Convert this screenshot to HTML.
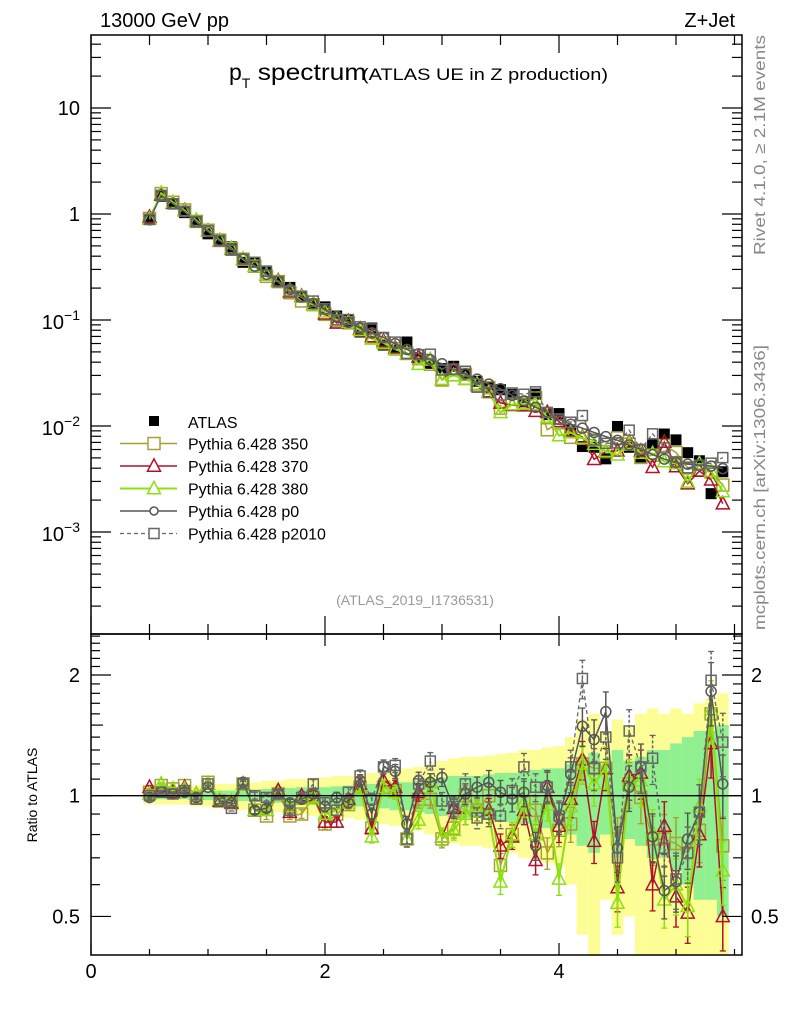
<!DOCTYPE html>
<html><head><meta charset="utf-8">
<style>
html,body{margin:0;padding:0;background:#fff;}
svg{display:block;font-family:"Liberation Sans",sans-serif;}
</style></head>
<body>
<svg id="chart" width="786" height="1024" viewBox="0 0 786 1024" xmlns="http://www.w3.org/2000/svg">
  <text x="100" y="27" font-size="20">13000 GeV pp</text>
  <text x="735" y="27" font-size="20" text-anchor="end">Z+Jet</text>
  <text x="229" y="80" font-size="23">p<tspan font-size="14" dy="8">T</tspan><tspan dy="-8" textLength="116" lengthAdjust="spacingAndGlyphs"> spectrum</tspan></text>
  <text x="362" y="80" font-size="17" textLength="246" lengthAdjust="spacingAndGlyphs">(ATLAS UE in Z production)</text>
  <text x="415" y="605" font-size="14" fill="#999" text-anchor="middle">(ATLAS_2019_I1736531)</text>
  <text transform="translate(765,255) rotate(-90)" font-size="16" fill="#888" textLength="220" lengthAdjust="spacingAndGlyphs">Rivet 4.1.0, ≥ 2.1M events</text>
  <text transform="translate(765,630) rotate(-90)" font-size="16" fill="#888" textLength="285" lengthAdjust="spacingAndGlyphs">mcplots.cern.ch [arXiv:1306.3436]</text>
  <text transform="translate(37,795) rotate(-90)" font-size="14" text-anchor="middle">Ratio to ATLAS</text>
  <g id="bands"></g>
  <g id="marks"></g>
  <g id="axes"></g>
  <g id="legend"></g>
</svg>
<script>
const xVals = [0.5,0.6,0.7,0.8,0.9,1.0,1.1,1.2,1.3,1.4,1.5,1.6,1.7,1.8,1.9,2.0,2.1,2.2,2.3,2.4,2.5,2.6,2.7,2.8,2.9,3.0,3.1,3.2,3.3,3.4,3.5,3.6,3.7,3.8,3.9,4.0,4.1,4.2,4.3,4.4,4.5,4.6,4.7,4.8,4.9,5.0,5.1,5.2,5.3,5.4];
const atlasVals = [0.89,1.47,1.24,1.03,0.86,0.65,0.58,0.49,0.35,0.35,0.29,0.228,0.203,0.168,0.141,0.133,0.109,0.099,0.077,0.084,0.058,0.052,0.062,0.044,0.039,0.0348,0.0366,0.0307,0.0264,0.023,0.022,0.0199,0.0169,0.02,0.0128,0.0131,0.0092,0.0064,0.0063,0.0049,0.0099,0.0063,0.0051,0.0068,0.0084,0.0074,0.0056,0.0047,0.0023,0.0037];
const ratio350 = [1.02,1.06,1.04,1.06,0.99,1.08,0.97,0.96,1.07,0.92,0.89,1.01,0.89,0.90,0.99,0.85,0.90,0.95,1.05,0.83,1.05,1.03,0.78,0.98,0.98,0.78,0.83,1.00,0.92,1.00,0.67,0.80,0.96,0.92,0.72,0.82,0.85,1.20,1.17,1.17,0.78,1.07,0.99,0.78,0.78,0.76,0.72,0.82,1.60,0.75];
const ratio370 = [1.05,1.03,1.02,1.05,1.01,1.07,0.97,0.96,1.07,0.92,0.92,1.03,0.91,1.00,1.00,0.86,0.86,0.98,1.07,0.83,1.09,1.05,0.78,1.02,1.08,0.79,0.93,0.90,0.94,0.92,0.75,0.79,0.92,0.69,1.05,0.84,0.98,1.23,0.77,1.17,0.59,1.12,1.14,0.60,0.84,0.56,0.51,0.80,1.35,0.50];
const ratio380 = [1.01,1.07,1.04,1.04,1.01,1.07,0.98,0.97,1.07,0.92,0.92,1.01,0.94,0.98,0.99,0.90,0.92,0.96,1.04,0.79,1.05,1.02,0.78,0.87,1.08,0.79,0.82,0.90,0.94,0.90,0.61,0.80,0.96,0.80,0.95,0.62,0.94,1.20,1.07,1.18,0.54,1.09,1.09,0.81,0.55,0.60,0.53,0.94,1.64,0.65];
const ratioP0 = [0.99,1.02,1.01,1.02,0.99,1.05,0.97,0.96,1.08,0.92,0.93,1.01,0.96,0.98,1.01,0.94,0.99,0.96,1.09,0.90,1.18,1.15,0.85,1.09,1.08,1.11,0.93,1.01,1.05,1.08,1.02,0.98,1.02,0.75,1.06,0.88,1.13,1.49,1.38,1.62,0.74,1.05,1.18,0.79,0.58,0.61,0.78,0.91,1.82,1.07];
const ratioP2010 = [1.00,1.02,1.01,1.03,0.98,1.07,0.97,0.93,1.07,1.00,0.99,1.01,0.92,0.99,1.07,0.96,0.92,1.02,1.12,0.98,1.18,1.19,0.78,1.07,1.22,0.97,0.94,1.07,0.88,0.90,0.89,1.03,1.18,1.05,1.05,0.89,1.18,1.96,1.17,1.40,0.70,1.45,1.18,1.24,0.74,0.62,0.72,0.91,1.94,1.36];
const statErr = [0.02,0.02,0.02,0.02,0.025,0.025,0.03,0.03,0.03,0.035,0.04,0.04,0.045,0.05,0.05,0.05,0.055,0.06,0.06,0.07,0.07,0.08,0.08,0.09,0.10,0.11,0.12,0.12,0.12,0.13,0.14,0.14,0.15,0.16,0.17,0.17,0.20,0.25,0.28,0.20,0.30,0.22,0.25,0.30,0.30,0.35,0.40,0.45,0.45,0.50];
const totErr = [0.05,0.05,0.05,0.05,0.06,0.06,0.07,0.07,0.08,0.08,0.09,0.09,0.10,0.10,0.11,0.11,0.12,0.12,0.13,0.14,0.15,0.16,0.17,0.18,0.20,0.22,0.24,0.25,0.25,0.26,0.27,0.28,0.30,0.30,0.32,0.33,0.40,0.55,0.60,0.45,0.55,0.50,0.60,0.65,0.60,0.65,0.60,0.70,0.75,0.80];
const mcErr = [0.01,0.01,0.01,0.01,0.01,0.01,0.015,0.015,0.015,0.02,0.02,0.02,0.02,0.025,0.025,0.03,0.03,0.03,0.035,0.035,0.04,0.04,0.045,0.05,0.05,0.05,0.055,0.06,0.06,0.07,0.07,0.07,0.08,0.08,0.09,0.09,0.10,0.11,0.12,0.12,0.13,0.13,0.14,0.14,0.15,0.16,0.16,0.17,0.18,0.18];
const mainTickLabels = [["10",1],["1",0],["10","-1"],["10","-2"],["10","-3"]];
const ratioTickLabels = ["0.5","1","2"];
const xTickLabels = ["0","2","4"];

const NS = "http://www.w3.org/2000/svg";
const X0 = 91, X1 = 742, YT = 35, YM = 634, YB = 955;
function xs(v){ return X0 + 117*v; }
function ym(v){ return 214 - 106*Math.log10(v); }
function yr(r){ return 795.7 - 401*Math.log10(r); }
function mk(tag, attrs, parent){
  const e = document.createElementNS(NS, tag);
  for (const k in attrs) e.setAttribute(k, attrs[k]);
  parent.appendChild(e);
  return e;
}
const bands = document.getElementById('bands');
const marks = document.getElementById('marks');
const axes = document.getElementById('axes');
const legend = document.getElementById('legend');

const defs = mk('defs', {}, document.getElementById('chart'));
const c1 = mk('clipPath', {id:'clipMain'}, defs);
mk('rect', {x:X0, y:YT, width:X1-X0, height:YM-YT}, c1);
const c2 = mk('clipPath', {id:'clipRatio'}, defs);
mk('rect', {x:X0, y:YM, width:X1-X0, height:YB-YM}, c2);
bands.setAttribute('clip-path', 'url(#clipRatio)');

const hw = 0.05;
xVals.forEach((x, i) => {
  const lo = Math.max(1 - totErr[i], 0.3), hi = 1 + totErr[i];
  const r = mk('rect', {x:xs(x-hw), y:yr(hi), width:117*2*hw, height:yr(lo)-yr(hi), fill:'#fdfd96'}, bands);
  
  
});
xVals.forEach((x, i) => {
  const lo = Math.max(1 - statErr[i], 0.3), hi = 1 + statErr[i];
  const r = mk('rect', {x:xs(x-hw), y:yr(hi), width:117*2*hw, height:yr(lo)-yr(hi), fill:'#90f090'}, bands);
  
  
});
const refLine = mk('line', {x1:X0, x2:X1, y1:yr(1), y2:yr(1), stroke:'#000', 'stroke-width':1.3}, axes);



const gMain = mk('g', {'clip-path':'url(#clipMain)'}, marks);
const gRatio = mk('g', {'clip-path':'url(#clipRatio)'}, marks);
xVals.forEach((x, i) => {
  const s = mk('rect', {x:xs(x)-5.5, y:ym(atlasVals[i])-5.5, width:11, height:11, fill:'#000'}, gMain);
  
  
});

const series = [
  {name:'350', r:ratio350, color:'#a8a030', marker:'square', size:12, dash:null, w:1.5},
  {name:'370', r:ratio370, color:'#b01028', marker:'triangle', size:13, dash:null, w:1.5},
  {name:'380', r:ratio380, color:'#8ce010', marker:'triangle', size:13, dash:null, w:2},
  {name:'p0', r:ratioP0, color:'#555555', marker:'circle', size:10, dash:null, w:1.5},
  {name:'p2010', r:ratioP2010, color:'#666666', marker:'square', size:10, dash:'4,3', w:1.3}
];
function marker(g, type, cx, cy, sz, color, w){
  let e;
  if (type === 'square') e = mk('rect', {x:cx-sz/2, y:cy-sz/2, width:sz, height:sz, fill:'none', stroke:color, 'stroke-width':w}, g);
  else if (type === 'circle') e = mk('circle', {cx:cx, cy:cy, r:sz/2, fill:'none', stroke:color, 'stroke-width':w}, g);
  else e = mk('polygon', {points:`${cx},${cy-sz*0.55} ${cx-sz/2},${cy+sz*0.4} ${cx+sz/2},${cy+sz*0.4}`, fill:'none', stroke:color, 'stroke-width':w}, g);
  return e;
}
series.forEach(s => {
  const gm = mk('g', {}, gMain);
  
  
  const gr = mk('g', {}, gRatio);
  
  
  const ptsM = xVals.map((x, i) => xs(x) + ',' + ym(atlasVals[i]*s.r[i])).join(' ');
  const ptsR = xVals.map((x, i) => xs(x) + ',' + yr(s.r[i])).join(' ');
  const la = {fill:'none', stroke:s.color, 'stroke-width':s.w};
  if (s.dash) la['stroke-dasharray'] = s.dash;
  mk('polyline', Object.assign({points:ptsM}, la), gm);
  mk('polyline', Object.assign({points:ptsR}, la), gr);
  xVals.forEach((x, i) => {
    const r = s.r[i], e = mcErr[i];
    const ea = {x1:xs(x), x2:xs(x), y1:yr(r*(1+e)), y2:yr(Math.max(r*(1-e),0.3)), stroke:s.color, 'stroke-width':1.5};
    if (s.dash) ea['stroke-dasharray'] = '3,2';
    mk('line', ea, gr);
    mk('line', {x1:xs(x)-3, x2:xs(x)+3, y1:yr(r*(1+e)), y2:yr(r*(1+e)), stroke:s.color, 'stroke-width':1.3}, gr);
    mk('line', {x1:xs(x)-3, x2:xs(x)+3, y1:yr(r*(1-e)), y2:yr(r*(1-e)), stroke:s.color, 'stroke-width':1.3}, gr);
    const m1 = marker(gm, s.marker, xs(x), ym(atlasVals[i]*r), s.size, s.color, 1.5);
    
    
    const m2 = marker(gr, s.marker, xs(x), yr(r), s.size, s.color, 1.5);
    
    
  });
});

const f1 = mk('rect', {x:X0, y:YT, width:X1-X0, height:YM-YT, fill:'none', stroke:'#000', 'stroke-width':1.5}, axes);


const f2 = mk('rect', {x:X0, y:YM, width:X1-X0, height:YB-YM, fill:'none', stroke:'#000', 'stroke-width':1.5}, axes);



function tick(x1,y1,x2,y2){ mk('line', {x1:x1,y1:y1,x2:x2,y2:y2, stroke:'#000','stroke-width':1.2}, axes); }
for (let k = 0; k <= 11; k++) {
  const v = k*0.5, x = xs(v);
  if (x > X1) break;
  const major = (k % 4 === 0);
  const L = major ? 18 : 10;
  tick(x, YT, x, YT+L); tick(x, YM, x, YM-L);
  tick(x, YM, x, YM+(major?12:6)); tick(x, YB, x, YB-(major?12:6));
}
xTickLabels.forEach((t, k) => {
  const lb = mk('text', {x:xs(k*2), y:978, 'font-size':20, 'text-anchor':'middle'}, axes);
  lb.textContent = t;
  
  
});
for (let d = -4; d <= 1; d++) {
  for (let m = 1; m <= 9; m++) {
    const v = m*Math.pow(10,d), y = ym(v);
    if (y < YT || y > YM) continue;
    const L = (m === 1) ? 20 : 10;
    tick(X0, y, X0+L, y); tick(X1, y, X1-L, y);
  }
}
mainTickLabels.forEach(t => {
  const lb = mk('text', {'font-size':20, 'text-anchor':'end'}, axes);
  
  
  if (t[1] === 1) { lb.setAttribute('x', 80); lb.setAttribute('y', ym(10)+7); lb.textContent = t[0]; }
  else if (t[1] === 0) { lb.setAttribute('x', 80); lb.setAttribute('y', ym(1)+7); lb.textContent = t[0]; }
  else {
    const e = parseInt(t[1]);
    lb.setAttribute('x', 80); lb.setAttribute('y', ym(Math.pow(10,e))+9);
    lb.innerHTML = '10<tspan font-size="14" dy="-9">\u2212' + Math.abs(e) + '</tspan>';
  }
});
for (let k = 3; k <= 25; k++) {
  const v = k/10, y = yr(v);
  if (y < YM || y > YB) continue;
  const L = (k === 5 || k === 10 || k === 20) ? 20 : (k === 15 ? 12 : 9);
  tick(X0, y, X0+L, y); tick(X1, y, X1-L, y);
}
ratioTickLabels.forEach(t => {
  const v = parseFloat(t);
  const a = mk('text', {x:80, y:yr(v)+7, 'font-size':20, 'text-anchor':'end'}, axes);
  a.textContent = t;
  
  
  const b = mk('text', {x:751, y:yr(v)+7, 'font-size':20}, axes);
  b.textContent = t;
  
  
});

const ly0 = 421, ldy = 22.5;
const la = mk('rect', {x:149, y:ly0-5, width:10, height:10, fill:'#000'}, legend);


const lt0 = mk('text', {x:188, y:ly0+7, 'font-size':16}, legend);
lt0.textContent = 'ATLAS';


series.forEach((s, i) => {
  const y = ly0 + ldy*(i+1);
  const g = mk('g', {}, legend);
  
  
  const a = {x1:120, x2:177, y1:y, y2:y, stroke:s.color, 'stroke-width':s.w};
  if (s.dash) a['stroke-dasharray'] = s.dash;
  mk('line', a, g);
  const sz = (s.name === 'p0') ? 8 : s.size;
  const m = marker(g, s.marker, 154, y, sz, s.color, 1.5);
  m.setAttribute('fill', '#fff');
  const t = mk('text', {x:188, y:y+6, 'font-size':16}, g);
  t.textContent = 'Pythia 6.428 ' + s.name;
});
</script>
</body></html>
